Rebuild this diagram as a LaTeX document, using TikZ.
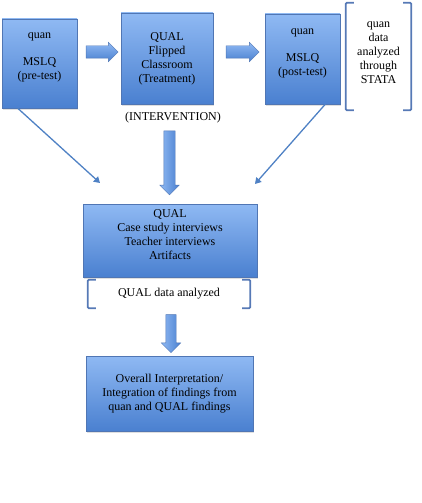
\documentclass[tikz,border=0pt]{standalone}
\usepackage{fontspec}
\setmainfont{Liberation Serif}
\usetikzlibrary{shapes.arrows,shadows,arrows.meta}
\definecolor{boxoben}{RGB}{143,185,243}
\definecolor{boxunten}{RGB}{74,128,208}
\definecolor{boxrand}{RGB}{80,118,180}
\definecolor{klammerfarbe}{RGB}{86,121,182}
\definecolor{linienfarbe}{RGB}{79,129,196}

\begin{document}
\begin{tikzpicture}[x=1pt,y=-1pt,
    font=\fontsize{12}{14}\selectfont,
    kasten/.style={draw=boxrand, line width=0.5pt, top color=boxoben, bottom color=boxunten,
        align=center, inner sep=0pt,
        drop shadow={opacity=0.25, shadow xshift=0.8pt, shadow yshift=-1.5pt}},
    pfeilform/.style={single arrow, draw=boxrand, line width=0.4pt,
        inner xsep=0pt, inner ysep=6pt, single arrow head extend=3.5pt},
    pfeil/.style={pfeilform, top color=boxoben, bottom color=boxunten},
    pfeilrunter/.style={pfeilform, rotate=-90, left color=boxoben, right color=boxunten},
    klammer/.style={draw=klammerfarbe, line width=1.8pt, rounded corners=1pt},
    linie/.style={draw=linienfarbe, line width=1.3pt, -{Triangle[length=6pt,width=7pt]}}]
    \useasboundingbox (0,0) rectangle (421,503);
    % obere Reihe:
    \node[kasten, minimum width=75, minimum height=89] (pre) at (39.5,63.5)
        {quan\\[13pt]MSLQ\\(pre-test)\\\mbox{}}; % Vortest
    \node[kasten, minimum width=92, minimum height=91] (flip) at (167,58.5)
        {QUAL\\Flipped\\Classroom\\(Treatment)}; % Intervention
    \node[kasten, minimum width=75, minimum height=90] (post) at (302.5,59)
        {quan\\[13pt]MSLQ\\(post-test)\\\mbox{}}; % Nachtest
    \node[align=center, inner sep=0pt, minimum width=65, minimum height=107] (stata) at (378.5,56.5)
        {quan\\data\\analyzed\\through\\STATA\\[-6pt]\mbox{}};
    \draw[klammer] ([xshift=8pt]stata.north west) -- (stata.north west) -- (stata.south west) -- ([xshift=8pt]stata.south west);
    \draw[klammer] ([xshift=-8pt]stata.north east) -- (stata.north east) -- (stata.south east) -- ([xshift=-8pt]stata.south east);
    \node[inner sep=0pt] (inter) at (173,118) {(INTERVENTION)};
    % Blockpfeile oben:
    \node[pfeil, minimum height=32] (p1) at (99,52) {};
    \node[pfeil, minimum height=33] (p2) at (239.5,52) {};
    \node[pfeilrunter, minimum height=64, inner ysep=5.5pt, single arrow head extend=4pt] (p3) at (169.5,160) {};
    % Mitte:
    \node[kasten, minimum width=174, minimum height=73] (mid) at (170,240.5)
        {QUAL\\Case study interviews\\Teacher interviews\\Artifacts\\[-2pt]\mbox{}};
    \coordinate (l1) at (100,183);
    \coordinate (l2) at (255,184);
    \draw[linie] ([xshift=16pt]pre.south west) -- (l1);
    \draw[linie] ([xshift=-15pt]post.south east) -- (l2);
    \node[inner sep=0pt, minimum width=162, minimum height=28] (qualdata) at (169,294)
        {QUAL data analyzed\\[-4pt]\mbox{}};
    \draw[klammer] ([xshift=8pt]qualdata.north west) -- (qualdata.north west) -- (qualdata.south west) -- ([xshift=8pt]qualdata.south west);
    \draw[klammer] ([xshift=-8pt]qualdata.north east) -- (qualdata.north east) -- (qualdata.south east) -- ([xshift=-8pt]qualdata.south east);
    % unten:
    \node[pfeilrunter, minimum height=38, inner ysep=5pt, single arrow head extend=4.5pt] (p4) at (171,331) {};
    \node[kasten, minimum width=167, minimum height=75] (final) at (169.5,393.5)
        {Overall Interpretation/\\Integration of findings from\\quan and QUAL findings};
\end{tikzpicture}
\end{document}
